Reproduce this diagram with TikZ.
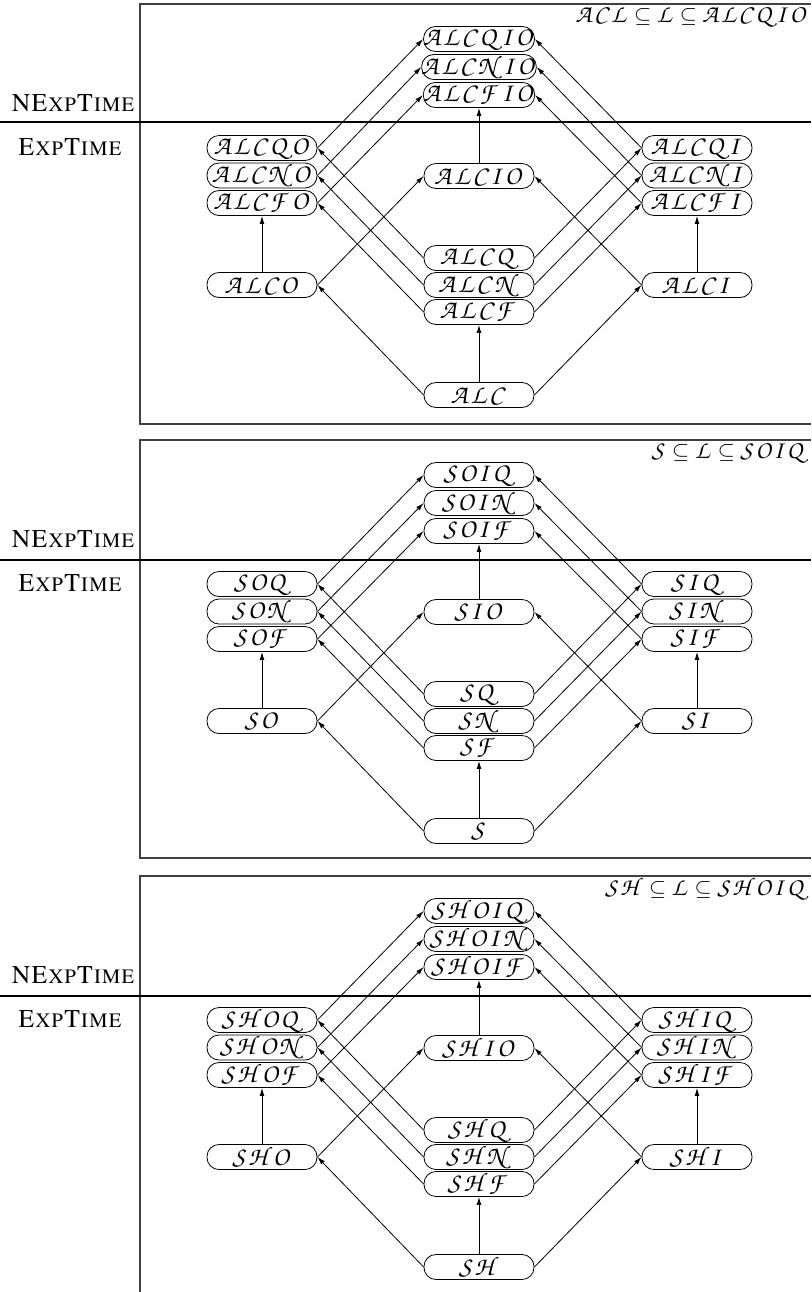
\documentclass[tikz,border=0pt]{standalone}
\usepackage[T1]{fontenc}
\usepackage{mathptmx}
\usetikzlibrary{arrows.meta}
\DeclareFontFamily{OT1}{pzc}{}
\DeclareFontShape{OT1}{pzc}{m}{it}{<-> s * [1.15] pzcmi7t}{}
\DeclareMathAlphabet{\zcal}{OT1}{pzc}{m}{it}
\makeatletter
\def\cc@loop#1{\ifx#1\@nil\else\zcal{#1}\mkern0.8mu\expandafter\cc@loop\fi}
\newcommand\cc[1]{$\cc@loop#1\@nil$}
\makeatother
\newcommand\sq{\hspace{0.25em}$\subseteq$\hspace{0.25em}}
\tikzset{
  dl/.style={draw, rounded corners=6pt, minimum width=55pt, minimum height=12.5pt, inner sep=0pt, line width=0.4pt, font=\fontsize{11.6}{13}\selectfont},
  arr/.style={line width=0.4pt, -{Latex[length=4pt,width=2.4pt]}},
  frame/.style={line width=0.7pt, draw=black!75},
  sep/.style={line width=0.8pt},
  cx/.style={font=\fontsize{12.8}{15}\selectfont},
  ttl/.style={anchor=east, font=\fontsize{11}{14}\selectfont, inner sep=0pt}
}
\newcommand\paneledges[1]{%
  \foreach \s/\t in {B/F,O/FO,I/FI,IO/FIO} \draw[arr] (#1\s.north) -- (#1\t.south);
  \foreach \s/\t in {B/O,Q/QO,N/NO,F/FO,I/IO,QI/QIO,NI/NIO,FI/FIO} \draw[arr] (#1\s.west) -- (#1\t.east);
  \foreach \s/\t in {B/I,Q/QI,N/NI,F/FI,O/IO,QO/QIO,NO/NIO,FO/FIO} \draw[arr] (#1\s.east) -- (#1\t.west);
}
\begin{document}
\begin{tikzpicture}[x=0.5pt,y=-0.5pt]
\useasboundingbox (0,0) rectangle (811,1292);
% ---------------- panel 1
\begin{scope}
\draw[frame] (811,4) -- (140,4) -- (140,424) -- (811,424);
\draw[sep] (0,122) -- (811,122);
\node[cx] (a-nexp) at (73,103) {\textsc{NExpTime}};
\node[cx] (a-exp) at (70,147) {\textsc{ExpTime}};
\node[ttl] (a-title) at (808,17) {\cc{ACL}\sq\cc{L}\sq\cc{ALCQIO}};
\node[dl] (a-QIO) at (479,39) {\cc{ALCQIO}};
\node[dl] (a-NIO) at (479,67) {\cc{ALCNIO}};
\node[dl] (a-FIO) at (479,95) {\cc{ALCFIO}};
\node[dl] (a-QO) at (262,148) {\cc{ALCQO}};
\node[dl] (a-NO) at (262,175.5) {\cc{ALCNO}};
\node[dl] (a-FO) at (262,203) {\cc{ALCFO}};
\node[dl] (a-O) at (262,285) {\cc{ALCO}};
\node[dl] (a-IO) at (479,176) {\cc{ALCIO}};
\node[dl] (a-Q) at (479,258) {\cc{ALCQ}};
\node[dl] (a-N) at (479,285) {\cc{ALCN}};
\node[dl] (a-F) at (479,312) {\cc{ALCF}};
\node[dl] (a-B) at (479,395) {\cc{ALC}};
\node[dl] (a-QI) at (697,148) {\cc{ALCQI}};
\node[dl] (a-NI) at (697,175.5) {\cc{ALCNI}};
\node[dl] (a-FI) at (697,203) {\cc{ALCFI}};
\node[dl] (a-I) at (697,285) {\cc{ALCI}};
\paneledges{a-}
\end{scope}
% ---------------- panel 2
\begin{scope}[yshift=-218pt]
\draw[frame] (811,4) -- (140,4) -- (140,422) -- (811,422);
\draw[sep] (0,124) -- (811,124);
\node[cx] (b-nexp) at (73,103) {\textsc{NExpTime}};
\node[cx] (b-exp) at (70,147) {\textsc{ExpTime}};
\node[ttl] (b-title) at (808,17) {\cc{S}\sq\cc{L}\sq\cc{SOIQ}};
\node[dl] (b-QIO) at (479,39) {\cc{SOIQ}};
\node[dl] (b-NIO) at (479,67) {\cc{SOIN}};
\node[dl] (b-FIO) at (479,95) {\cc{SOIF}};
\node[dl] (b-QO) at (262,148) {\cc{SOQ}};
\node[dl] (b-NO) at (262,175.5) {\cc{SON}};
\node[dl] (b-FO) at (262,203) {\cc{SOF}};
\node[dl] (b-O) at (262,285) {\cc{SO}};
\node[dl] (b-IO) at (479,176) {\cc{SIO}};
\node[dl] (b-Q) at (479,258) {\cc{SQ}};
\node[dl] (b-N) at (479,285) {\cc{SN}};
\node[dl] (b-F) at (479,312) {\cc{SF}};
\node[dl] (b-B) at (479,395) {\cc{S}};
\node[dl] (b-QI) at (697,148) {\cc{SIQ}};
\node[dl] (b-NI) at (697,175.5) {\cc{SIN}};
\node[dl] (b-FI) at (697,203) {\cc{SIF}};
\node[dl] (b-I) at (697,285) {\cc{SI}};
\paneledges{b-}
\end{scope}
% ---------------- panel 3
\begin{scope}[yshift=-436pt]
\draw[frame] (811,4) -- (140,4) -- (140,420);
\draw[sep] (0,124) -- (811,124);
\node[cx] (c-nexp) at (73,103) {\textsc{NExpTime}};
\node[cx] (c-exp) at (70,147) {\textsc{ExpTime}};
\node[ttl] (c-title) at (808,17) {\cc{SH}\sq\cc{L}\sq\cc{SHOIQ}};
\node[dl] (c-QIO) at (479,39) {\cc{SHOIQ}};
\node[dl] (c-NIO) at (479,67) {\cc{SHOIN}};
\node[dl] (c-FIO) at (479,95) {\cc{SHOIF}};
\node[dl] (c-QO) at (262,148) {\cc{SHOQ}};
\node[dl] (c-NO) at (262,175.5) {\cc{SHON}};
\node[dl] (c-FO) at (262,203) {\cc{SHOF}};
\node[dl] (c-O) at (262,285) {\cc{SHO}};
\node[dl] (c-IO) at (479,176) {\cc{SHIO}};
\node[dl] (c-Q) at (479,258) {\cc{SHQ}};
\node[dl] (c-N) at (479,285) {\cc{SHN}};
\node[dl] (c-F) at (479,312) {\cc{SHF}};
\node[dl] (c-B) at (479,395) {\cc{SH}};
\node[dl] (c-QI) at (697,148) {\cc{SHIQ}};
\node[dl] (c-NI) at (697,175.5) {\cc{SHIN}};
\node[dl] (c-FI) at (697,203) {\cc{SHIF}};
\node[dl] (c-I) at (697,285) {\cc{SHI}};
\paneledges{c-}
\end{scope}
\end{tikzpicture}
\end{document}
